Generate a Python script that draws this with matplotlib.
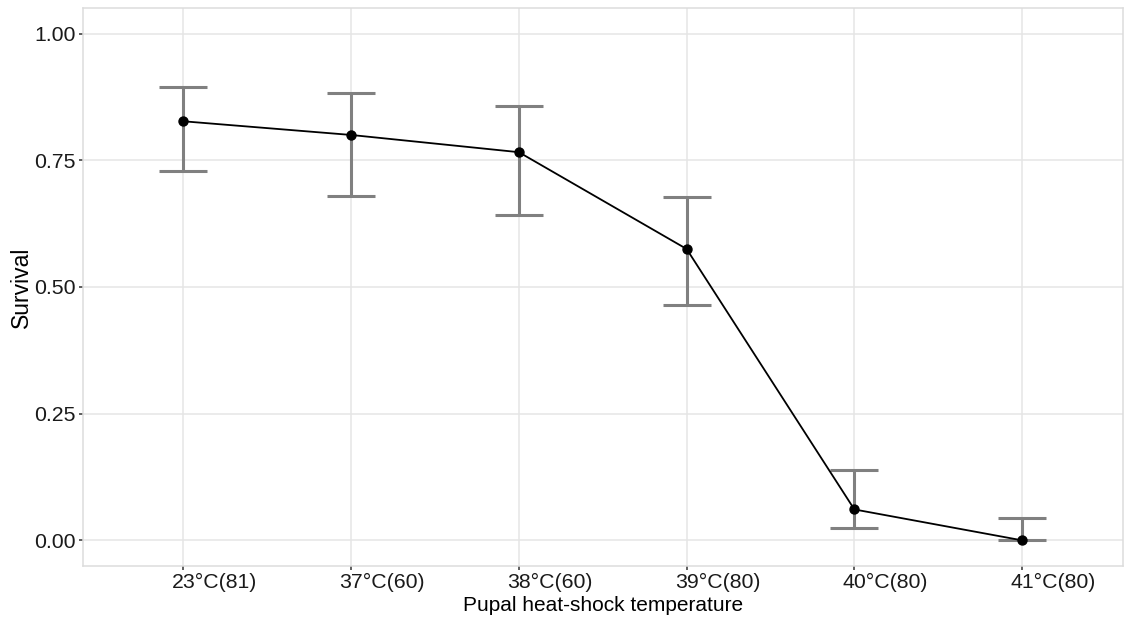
import matplotlib.pyplot as plt
import matplotlib.transforms as mtransforms
import numpy as np

plt.rcParams['font.family'] = ['Liberation Sans', 'DejaVu Sans']

# survival per heat-shock treatment (n in brackets) with 95% CI
labels = ['23°C(81)', '37°C(60)', '38°C(60)', '39°C(80)', '40°C(80)', '41°C(80)']
survival = [0.827, 0.800, 0.766, 0.575, 0.061, 0.000]
ci_low = [0.729, 0.680, 0.643, 0.464, 0.025, 0.000]
ci_high = [0.895, 0.883, 0.857, 0.678, 0.139, 0.044]

x = np.arange(1, len(labels) + 1)
surv = np.array(survival)
yerr = [surv - np.array(ci_low), np.array(ci_high) - surv]

fig = plt.figure(figsize=(11.24, 6.27), dpi=100)
ax = fig.add_axes([0.0736, 0.0978, 0.9253, 0.889])

ax.errorbar(x, surv, yerr=yerr, fmt='none', ecolor='#808080', elinewidth=2.2,
            capsize=17.6, capthick=2.2, zorder=2)
ax.plot(x, surv, color='black', lw=1.3, zorder=3)
ax.scatter(x, surv, s=42, color='black', zorder=4)

ax.set_xlim(0.4, 6.6)
ax.set_ylim(-0.05, 1.05)
ax.set_xticks(x)
ax.set_xticklabels(labels)
ax.set_yticks([0, 0.25, 0.5, 0.75, 1.0])
ax.set_yticklabels(['0.00', '0.25', '0.50', '0.75', '1.00'])

ax.grid(True, color='#e5e5e5', lw=1.1)
ax.set_axisbelow(True)
for sp in ax.spines.values():
    sp.set_color('#dcdcdc')
    sp.set_linewidth(1.1)
ax.tick_params(length=3, width=1.1, color='#333333', labelsize=15.3,
               labelcolor='#1a1a1a', pad=2)

# x labels sit slightly right of their ticks
shift = mtransforms.ScaledTranslation(31 / 100, 0, fig.dpi_scale_trans)
for lab in ax.get_xticklabels():
    lab.set_transform(lab.get_transform() + shift)

ax.set_xlabel('Pupal heat-shock temperature', fontsize=15, labelpad=3)
ax.set_ylabel('Survival', fontsize=16.5, labelpad=1)

fig.savefig('out.png', dpi=100)
